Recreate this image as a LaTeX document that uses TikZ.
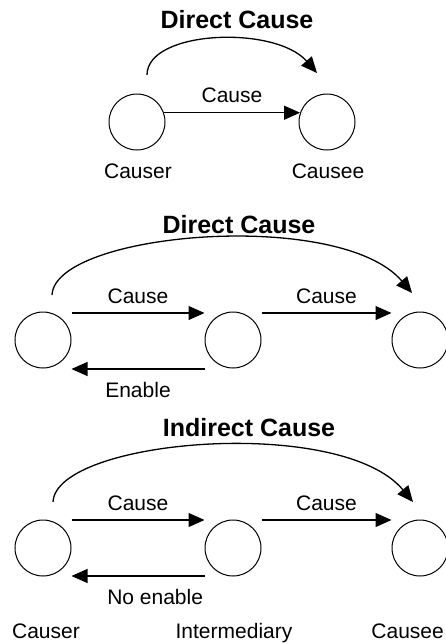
\documentclass[tikz,border=0pt]{standalone}
\usepackage{fontspec}
\setmainfont{Liberation Sans}
\usetikzlibrary{arrows.meta}
\begin{document}
\begin{tikzpicture}[x=1pt,y=-1pt,
  state/.style={circle,draw,line width=1pt,minimum size=56pt,inner sep=0pt},
  ttl/.style={font=\fontsize{25}{28}\selectfont\bfseries,inner sep=0pt},
  lbl/.style={font=\fontsize{21}{24}\selectfont,inner sep=0pt},
  arr/.style={line width=1.1pt,-{Triangle[length=16pt,width=14pt]}},
  curv/.style={line width=1.3pt,-{Triangle[length=16pt,width=14pt]}}]
\useasboundingbox (0,0) rectangle (445,643);
% ---------- top ----------
\node[ttl] (t1) at (237,20) {Direct Cause};
\node[state] (a1) at (137,122) {};
\node[state] (a2) at (327,122) {};
\node[lbl,anchor=base] (a1l) at (138,178) {Causer};
\node[lbl,anchor=base] (a2l) at (328,178) {Causee};
\draw[arr] (a1.19) -- node[lbl,midway,above=9pt] (a12l) {Cause} (a2.161);
\coordinate (a1c) at (147,75);
\coordinate (a2c) at (317,73);
\draw[curv] (a1c) .. controls (147,30) and (275,25) .. (a2c);
% ---------- middle ----------
\node[ttl] (t2) at (239,225) {Direct Cause};
\node[state] (b1) at (43,340) {};
\node[state] (b2) at (233,340) {};
\node[state] (b3) at (420,340) {};
\draw[arr] ([yshift=27pt]b1.east) -- node[lbl,midway,above=9pt] (b12l) {Cause} ([yshift=27pt]b2.west);
\draw[arr] ([yshift=27pt]b2.east) -- node[lbl,midway,above=9pt] (b23l) {Cause} ([yshift=27pt]b3.west);
\draw[arr] ([yshift=-29pt]b2.west) -- node[lbl,midway,below=13pt] (b21l) {Enable} ([yshift=-29pt]b1.east);
\coordinate (b1c) at (52,295);
\coordinate (b3c) at (412,293);
\draw[curv] (b1c) .. controls (55,232) and (340,208) .. (b3c);
% ---------- bottom ----------
\node[ttl] (t3) at (249,428) {Indirect Cause};
\node[state] (c1) at (43,548) {};
\node[state] (c2) at (233,548) {};
\node[state] (c3) at (420,548) {};
\draw[arr] ([yshift=28pt]c1.east) -- node[lbl,midway,above=9pt] (c12l) {Cause} ([yshift=28pt]c2.west);
\draw[arr] ([yshift=28pt]c2.east) -- node[lbl,midway,above=9pt] (c23l) {Cause} ([yshift=28pt]c3.west);
\draw[arr] ([yshift=-28pt]c2.west) -- node[lbl,pos=0.735,below=13pt,anchor=north west] (c21l) {No enable} ([yshift=-28pt]c1.east);
\coordinate (c1c) at (53,502);
\coordinate (c3c) at (413,502);
\draw[curv] (c1c) .. controls (56,439) and (341,415) .. (c3c);
\node[lbl,anchor=base] (c1l) at (46,638) {Causer};
\node[lbl,anchor=base] (c2l) at (234,638) {Intermediary};
\node[lbl,anchor=base east] (c3l) at (444,638) {Causee};
\end{tikzpicture}
\end{document}
